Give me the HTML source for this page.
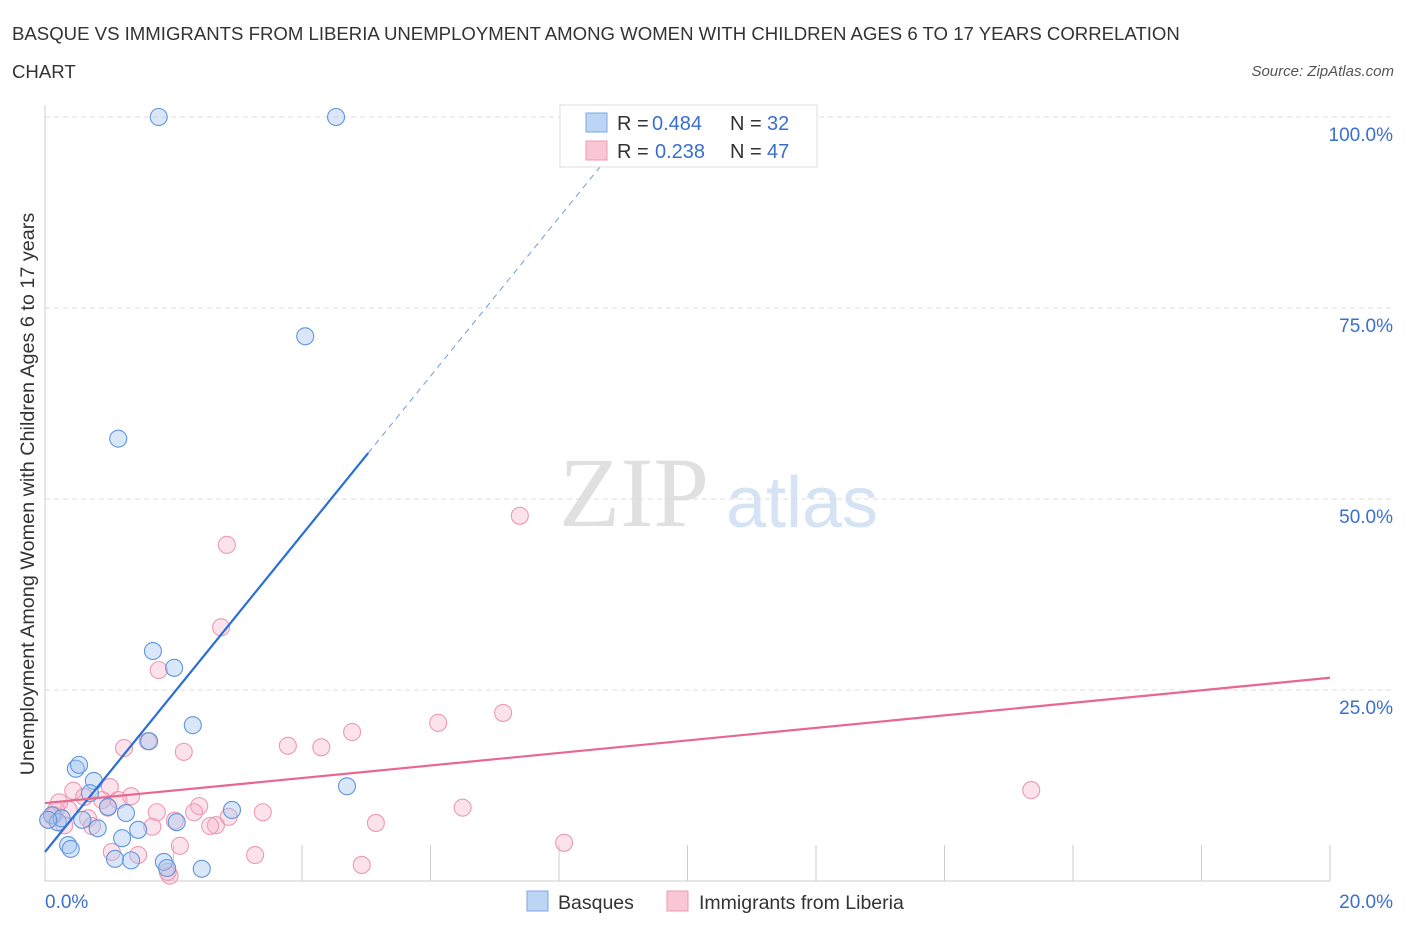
<!DOCTYPE html>
<html><head><meta charset="utf-8"><style>
body{margin:0;background:#fff;font-family:"Liberation Sans",sans-serif}
</style></head><body>
<svg id="c" width="1406" height="930" font-family="Liberation Sans, sans-serif" xmlns="http://www.w3.org/2000/svg">
<text x="12" y="40" font-size="18.6" fill="#333">BASQUE VS IMMIGRANTS FROM LIBERIA UNEMPLOYMENT AMONG WOMEN WITH CHILDREN AGES 6 TO 17 YEARS CORRELATION</text>
<text x="12" y="78" font-size="18.6" fill="#333">CHART</text>
<text x="1394" y="76" font-size="15" fill="#555" font-style="italic" text-anchor="end">Source: ZipAtlas.com</text>
<text x="34" y="494" font-size="19.8" fill="#333" text-anchor="middle" transform="rotate(-90 34 494)">Unemployment Among Women with Children Ages 6 to 17 years</text>
<text x="634" y="526" font-size="100" fill="#e0e0e0" style="font-family:'Liberation Serif',serif" text-anchor="middle">ZIP</text>
<text x="802" y="527" font-size="72" fill="#d5e3f5" text-anchor="middle">atlas</text>
<g id="grid"></g><g id="marks"></g>
<g>
<rect x="560" y="105" width="257" height="62" fill="#fff" stroke="#ddd"/>
<rect x="586" y="113" width="21" height="19" fill="#bcd5f5" stroke="#7aa7e6"/>
<rect x="586" y="141" width="21" height="19" fill="#f9c6d5" stroke="#ec9ab3"/>
<text x="617" y="130" font-size="20" fill="#333">R = <tspan fill="#3a6fd0" x="652">0.484</tspan><tspan x="730">N = </tspan><tspan fill="#3a6fd0" x="767">32</tspan></text>
<text x="617" y="158" font-size="20" fill="#333">R = <tspan fill="#3a6fd0" x="655">0.238</tspan><tspan x="730">N = </tspan><tspan fill="#3a6fd0" x="767">47</tspan></text>
</g>
<g>
<rect x="527" y="891" width="21" height="20" fill="#bcd5f5" stroke="#7aa7e6"/>
<text x="558" y="909" font-size="19.5" fill="#333">Basques</text>
<rect x="667" y="891" width="21" height="20" fill="#f9c6d5" stroke="#ec9ab3"/>
<text x="699" y="909" font-size="19.5" fill="#333">Immigrants from Liberia</text>
</g>
</svg>
<script>
const yTicks=[25,50,75,100];
const yTickLabels=["25.0%","50.0%","75.0%","100.0%"];
const xTicks=[0,2,4,6,8,10,12,14,16,18,20];
const basqueX=[1.77,4.53,4.05,1.14,1.68,2.01,2.30,1.62,4.70,0.48,0.53,0.76,0.70,0.98,1.26,2.91,2.05,0.11,0.20,0.26,0.36,0.40,0.82,1.20,1.45,1.09,1.34,1.85,1.90,2.44,0.05,0.58];
const basqueY=[100,100,71.3,57.9,30.1,27.9,20.4,18.3,12.4,14.7,15.2,13.1,11.5,9.7,8.9,9.3,7.7,8.6,7.7,8.2,4.7,4.2,6.9,5.6,6.7,2.9,2.7,2.5,1.7,1.6,8.0,8.0];
const liberiaX=[7.39,2.83,2.74,1.77,2.16,1.23,1.60,3.78,4.30,4.78,6.12,7.13,15.35,6.50,5.15,8.08,4.93,3.27,2.10,1.45,1.04,1.94,1.91,3.39,2.86,2.66,2.57,2.40,2.32,2.02,1.74,1.67,1.34,1.01,0.89,0.98,1.14,0.67,0.44,0.61,0.37,0.17,0.14,0.05,0.30,0.73,0.22];
const liberiaY=[47.8,44.0,33.2,27.6,16.9,17.4,18.3,17.7,17.5,19.5,20.7,22.0,11.9,9.6,7.6,5.0,2.1,3.4,4.6,3.4,3.8,0.7,1.2,9.0,8.4,7.3,7.2,9.8,9.0,7.9,9.0,7.1,11.1,12.3,10.6,9.6,10.6,8.2,11.8,11.0,9.3,9.3,8.6,8.0,7.3,7.2,10.3];
const basqueTrend=[3.8,10.38];
const liberiaTrend=[10.2,0.82];
const NS="http://www.w3.org/2000/svg";
const sx=v=>45+v/20*1285, sy=v=>881-v*7.64;
function mk(t,a,p){const e=document.createElementNS(NS,t);for(const k in a)e.setAttribute(k,a[k]);p.appendChild(e);return e;}
const G=document.getElementById('grid'),M=document.getElementById('marks');
mk('line',{x1:45,y1:105,x2:45,y2:881,stroke:'#ccc'},G);
mk('line',{x1:45,y1:881,x2:1330,y2:881,stroke:'#ccc'},G);
yTicks.forEach((t,i)=>{
 const l=mk('line',{x1:45,y1:sy(t),x2:1395,y2:sy(t),stroke:'#ddd','stroke-dasharray':'5,4'},G);
 
 
 const tx=mk('text',{x:1393,y:sy(t)+24,'font-size':19,fill:'#3a6fd0','text-anchor':'end'},G);
 tx.textContent=yTickLabels[i];
 
 
});
xTicks.forEach(t=>{
 const l=mk('line',{x1:sx(t),y1:845,x2:sx(t),y2:881,stroke:'#ccc'},G);
 
 
});
let a=mk('text',{x:45,y:908,'font-size':19,fill:'#3a6fd0'},G);a.textContent='0.0%';


a=mk('text',{x:1393,y:908,'font-size':19,fill:'#3a6fd0','text-anchor':'end'},G);a.textContent='20.0%';


liberiaX.forEach((x,i)=>{
 const c=mk('circle',{cx:sx(x),cy:sy(liberiaY[i]),r:8.5,fill:'rgba(245,175,198,0.35)',stroke:'#eb9ab3','stroke-width':1.1},M);
 
 
});
basqueX.forEach((x,i)=>{
 const c=mk('circle',{cx:sx(x),cy:sy(basqueY[i]),r:8.5,fill:'rgba(165,198,240,0.42)',stroke:'#5f95de','stroke-width':1.1},M);
 
 
});
const bx1=5.03,bx2=8.64;
let t=mk('line',{x1:sx(0),y1:sy(basqueTrend[0]),x2:sx(bx1),y2:sy(basqueTrend[0]+basqueTrend[1]*bx1),stroke:'#2a6ed8','stroke-width':2.2},M);


t=mk('line',{x1:sx(bx1),y1:sy(basqueTrend[0]+basqueTrend[1]*bx1),x2:sx(bx2),y2:sy(basqueTrend[0]+basqueTrend[1]*bx2),stroke:'#6f9ae0','stroke-width':1,'stroke-dasharray':'6,5'},M);


t=mk('line',{x1:sx(0),y1:sy(liberiaTrend[0]),x2:sx(20),y2:sy(liberiaTrend[0]+liberiaTrend[1]*20),stroke:'#e8668f','stroke-width':2.2},M);


</script>
</body></html>
